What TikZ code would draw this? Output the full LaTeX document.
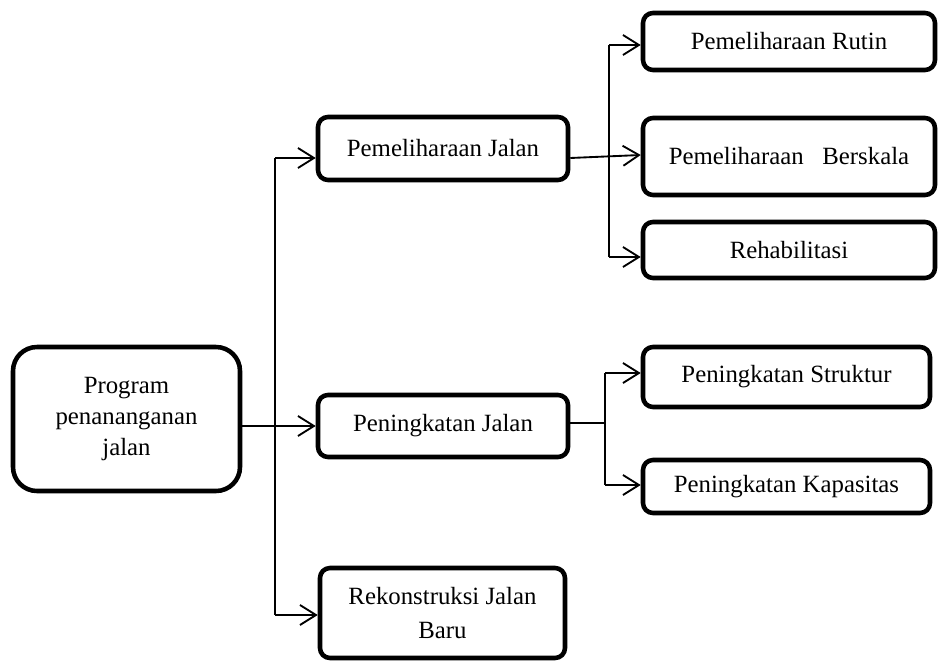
\documentclass[tikz,border=0pt]{standalone}
\usepackage{fontspec}
\setmainfont{Liberation Serif}
\usetikzlibrary{arrows.meta,calc}
\begin{document}
\begin{tikzpicture}[x=0.75pt,y=-0.75pt,
  box/.style={draw=black,line width=3.4pt,rounded corners=7.5pt,align=center,inner sep=0pt,
    font=\fontsize{18.6}{23}\selectfont},
  conn/.style={draw=black,line width=1.4pt},
  arr/.style={conn,-{Straight Barb[length=12pt,width=15pt,line width=1.4pt]}}]
\useasboundingbox (0,0) rectangle (938,660);
% nodes
\node[box,rounded corners=18pt,minimum width=170.25pt,minimum height=108pt] (prog) at (126.5,419) {Program\\penananganan\\jalan};
\node[box,minimum width=187.5pt,minimum height=47.25pt] (pj1) at (443,148.5) {Pemeliharaan Jalan};
\node[box,minimum width=187.5pt,minimum height=46.5pt] (pj2) at (443,426) {Peningkatan Jalan};
\node[box,minimum width=183.75pt,minimum height=67.5pt,font=\fontsize{18.6}{25}\selectfont] (pj3) at (442.5,613) {Rekonstruksi Jalan\\Baru};
\node[box,minimum width=219pt,minimum height=42.75pt] (r1) at (789,41.5) {Pemeliharaan Rutin};
\node[box,minimum width=219pt,minimum height=57.75pt] (r2) at (789,156.5) {Pemeliharaan\ \ \ Berskala};
\node[box,minimum width=219pt,minimum height=42pt] (r3) at (789,250) {\raisebox{-3pt}{Rehabilitasi}};
\node[box,minimum width=215.25pt,minimum height=45pt] (s1) at (786.5,377) {\raisebox{3pt}{Peningkatan Struktur}};
\node[box,minimum width=215.25pt,minimum height=39.75pt] (s2) at (786.5,486.5) {\raisebox{-2pt}{Peningkatan Kapasitas}};
% junction coordinates
\coordinate (tA) at (275,158);
\coordinate (tB) at (275,615);
\coordinate (u1) at (609,45);
\coordinate (u2) at (609,155);
\coordinate (u3) at (609,257);
\coordinate (v0) at (605,423);
\coordinate (v1) at (605,373);
\coordinate (v2) at (605,485);
% left trunk
\draw[conn] (tA) -- (tB);
\draw[arr] (tA) -- (tA -| pj1.west);
\draw[arr] (prog.east |- pj2.west) -- (pj2.west);
\draw[arr] (tB) -- (tB -| pj3.west);
% upper branch
\draw[conn] (u1) -- (u3);
\draw[arr] (u1) -- (u1 -| r1.west);
\draw[arr] (pj1.east |- tA) -- (u2 -| r2.west);
\draw[arr] (u3) -- (u3 -| r3.west);
% lower branch
\draw[conn] (v1) -- (v2);
\draw[conn] (pj2.east |- v0) -- (v0);
\draw[arr] (v1) -- (v1 -| s1.west);
\draw[arr] (v2) -- (v2 -| s2.west);
\end{tikzpicture}
\end{document}
